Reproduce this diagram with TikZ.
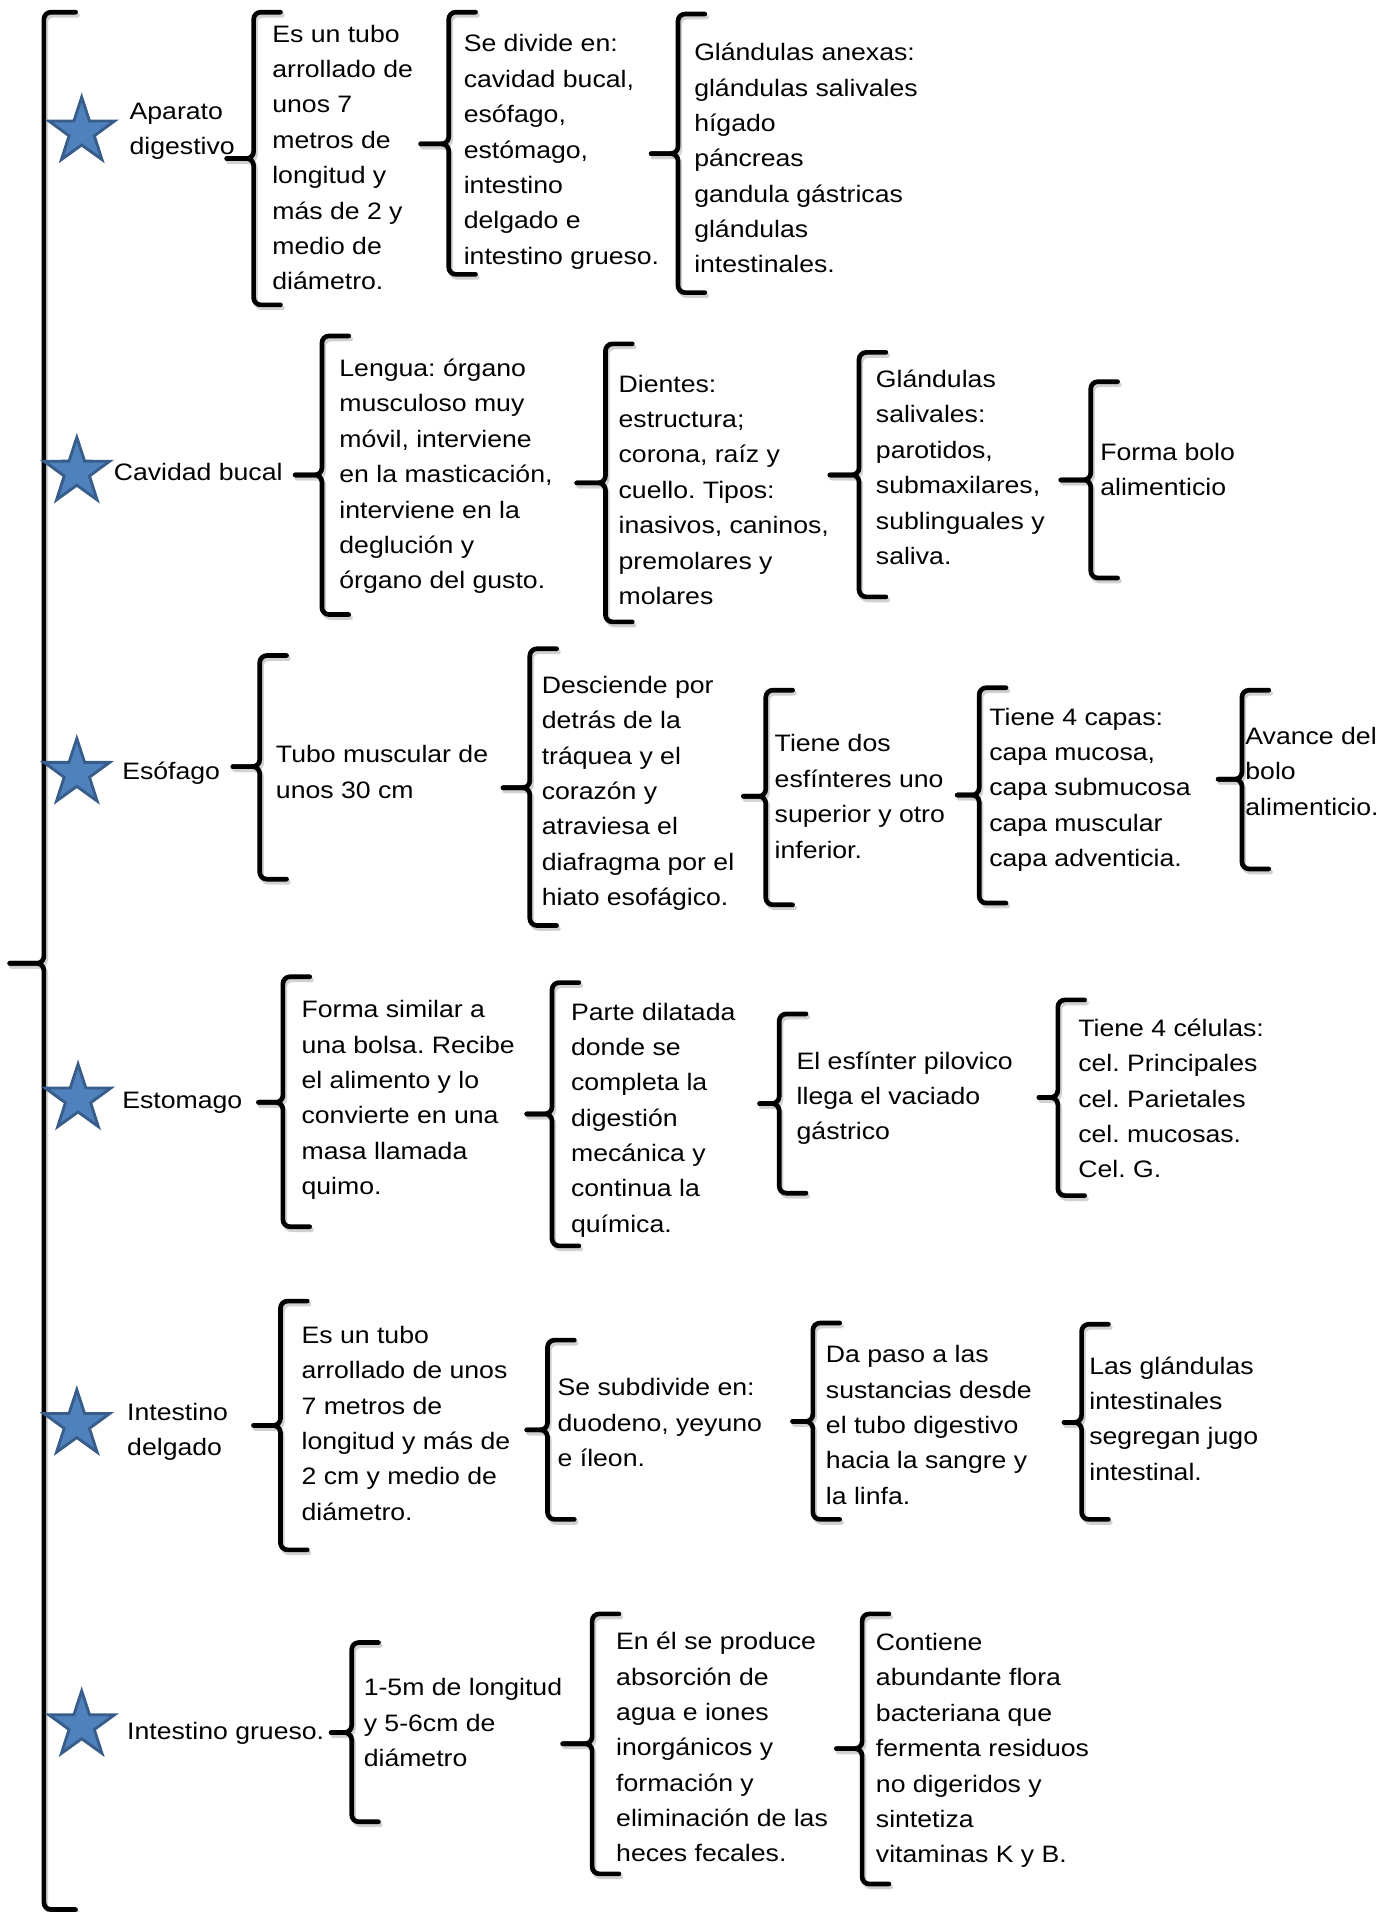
\documentclass[tikz,border=0pt]{standalone}
\usepackage{fontspec}
\setmainfont{Liberation Sans}[FakeStretch=1.12]
\usetikzlibrary{shapes.geometric}
\definecolor{starfill}{HTML}{4F81BD}
\definecolor{starline}{HTML}{385D8A}
\frenchspacing
\tikzset{
  brace/.style={line width=2.3pt, rounded corners=3.5pt, line cap=round},
  braceshadow/.style={brace, black!18, shift={(1.5,2.5)}},
  plain/.style={anchor=north west, inner sep=0pt, align=left,
    font=\fontsize{11.7}{17.4}\selectfont, execute at begin node=\strut},
  txt/.style={plain, yshift=4.1pt},
  lbl/.style={plain, yshift=8pt},
  mystar/.style={star, star points=5, star point ratio=2.6, minimum size=34pt,
    inner sep=0pt, fill=starfill, draw=starline, line width=1.4pt}
}
% x, top, bottom, middle, tip
\newcommand{\myBrace}[6][22]{
\draw[braceshadow] ({#2+#1},#3) -- (#2,#3) -- (#2,#5) -- (#6,#5);
\draw[braceshadow] ({#2+#1},#4) -- (#2,#4) -- (#2,#5) -- (#6,#5);
\draw[brace] ({#2+#1},#3) -- (#2,#3) -- (#2,#5) -- (#6,#5);
\draw[brace] ({#2+#1},#4) -- (#2,#4) -- (#2,#5) -- (#6,#5);
}

\begin{document}
\begin{tikzpicture}[x=0.6pt,y=-0.6pt]
	\useasboundingbox (0,0) rectangle (1139,1568);
	% main brace
	\myBrace[26]{36}{10}{1566}{790}{8}
	% stars
	\node[mystar] (s1) at (67,108) {};
	\node[mystar] (s2) at (63,387) {};
	\node[mystar] (s3) at (63,634) {};
	\node[mystar] (s4) at (64,901) {};
	\node[mystar] (s5) at (63,1168) {};
	\node[mystar] (s6) at (67,1415) {};
	% aparato digestivo
	\node[txt] (apar) at (106,91) {Aparato\\digestivo};
	\myBrace{208}{10}{250}{130}{186}
	\node[txt] (apar1) at (223,27) {Es un tubo\\arrollado de\\unos 7\\metros de\\longitud y\\más de 2 y\\medio de\\diámetro.};
	\myBrace{368}{10}{225}{118}{345}
	\node[txt] (apar2) at (380,35) {Se divide en:\\cavidad bucal,\\esófago,\\estómago,\\intestino\\delgado e\\intestino grueso.};
	\myBrace{556}{11.5}{240}{126}{534}
	\node[txt] (apar3) at (569,42) {Glándulas anexas:\\glándulas salivales\\hígado\\páncreas\\gandula gástricas\\glándulas\\intestinales.};
	% cavidad bucal
	\node[lbl] (cav) at (93,387) {Cavidad bucal};
	\myBrace{264}{275.5}{504}{389.5}{242}
	\node[txt] (cav1) at (278,301) {Lengua: órgano\\musculoso muy\\móvil, interviene\\en la masticación,\\interviene en la\\deglución y\\órgano del gusto.};
	\myBrace{496.5}{282}{510}{396}{473}
	\node[txt] (cav2) at (507,314) {Dientes:\\estructura;\\corona, raíz y\\cuello. Tipos:\\inasivos, caninos,\\premolares y\\molares};
	\myBrace{704.5}{289}{489.5}{389.5}{680.6}
	\node[txt] (cav3) at (718,310) {Glándulas\\salivales:\\parotidos,\\submaxilares,\\sublinguales y\\saliva.};
	\myBrace{894.5}{313}{474}{393.6}{870}
	\node[txt] (cav4) at (902,370) {Forma bolo\\alimenticio};
	% esofago
	\node[lbl] (eso) at (100,632) {Esófago};
	\myBrace{213}{537.6}{721}{628.7}{191}
	\node[txt] (eso1) at (226,618) {Tubo muscular de\\unos 30 cm};
	\myBrace{434.5}{532}{759}{646}{412.5}
	\node[txt] (eso2) at (444,561) {Desciende por\\detrás de la\\tráquea y el\\corazón y\\atraviesa el\\diafragma por el\\hiato esofágico.};
	\myBrace{628}{566}{742}{653}{609.7}
	\node[txt] (eso3) at (635,609) {Tiene dos\\esfínteres uno\\superior y otro\\inferior.};
	\myBrace{803}{564}{740.6}{652}{785}
	\node[txt] (eso4) at (811,587) {Tiene 4 capas:\\capa mucosa,\\capa submucosa\\capa muscular\\capa adventicia.};
	\myBrace{1018.5}{566}{712.6}{639}{999}
	\node[txt] (eso5) at (1021,603) {Avance del\\bolo\\alimenticio.};
	% estomago
	\node[lbl] (est) at (100,902) {Estomago};
	\myBrace{232}{801}{1006}{904}{212}
	\node[txt] (est1) at (247,827) {Forma similar a\\una bolsa. Recibe\\el alimento y lo\\convierte en una\\masa llamada\\quimo.};
	\myBrace{452.7}{805.8}{1021.7}{913.5}{432}
	\node[txt] (est2) at (468,829) {Parte dilatada\\donde se\\completa la\\digestión\\mecánica y\\continua la\\química.};
	\myBrace{639}{831.5}{978.5}{905}{623}
	\node[txt] (est3) at (653,869) {El esfínter pilovico\\llega el vaciado\\gástrico};
	\myBrace{867.5}{820}{980.5}{900}{852}
	\node[txt] (est4) at (884,842) {Tiene 4 células:\\cel. Principales\\cel. Parietales\\cel. mucosas.\\Cel. G.};
	% intestino delgado
	\node[txt] (del) at (104,1157) {Intestino\\delgado};
	\myBrace{230}{1067}{1271}{1169}{208}
	\node[txt] (del1) at (247,1094) {Es un tubo\\arrollado de unos\\7 metros de\\longitud y más de\\2 cm y medio de\\diámetro.};
	\myBrace{449}{1099}{1246}{1172.6}{432}
	\node[txt] (del2) at (457,1137) {Se subdivide en:\\duodeno, yeyuno\\e íleon.};
	\myBrace{666.6}{1085}{1246}{1165.7}{650}
	\node[txt] (del3) at (677,1110) {Da paso a las\\sustancias desde\\el tubo digestivo\\hacia la sangre y\\la linfa.};
	\myBrace{887}{1086}{1246}{1166.5}{872.6}
	\node[txt] (del4) at (893,1119) {Las glándulas\\intestinales\\segregan jugo\\intestinal.};
	% intestino grueso
	\node[lbl] (gru) at (104,1419) {Intestino grueso.};
	\myBrace{288.4}{1347}{1494}{1420.8}{271.6}
	\node[txt] (gru1) at (298,1383) {1-5m de longitud\\y 5-6cm de\\diámetro};
	\myBrace{485.6}{1323.5}{1536.7}{1430}{461.5}
	\node[txt] (gru2) at (505,1345) {En él se produce\\absorción de\\agua e iones\\inorgánicos y\\formación y\\eliminación de las\\heces fecales.};
	\myBrace{707}{1323.5}{1545}{1434}{686}
	\node[txt] (gru3) at (718,1346) {Contiene\\abundante flora\\bacteriana que\\fermenta residuos\\no digeridos y\\sintetiza\\vitaminas K y B.};
\end{tikzpicture}
\end{document}
